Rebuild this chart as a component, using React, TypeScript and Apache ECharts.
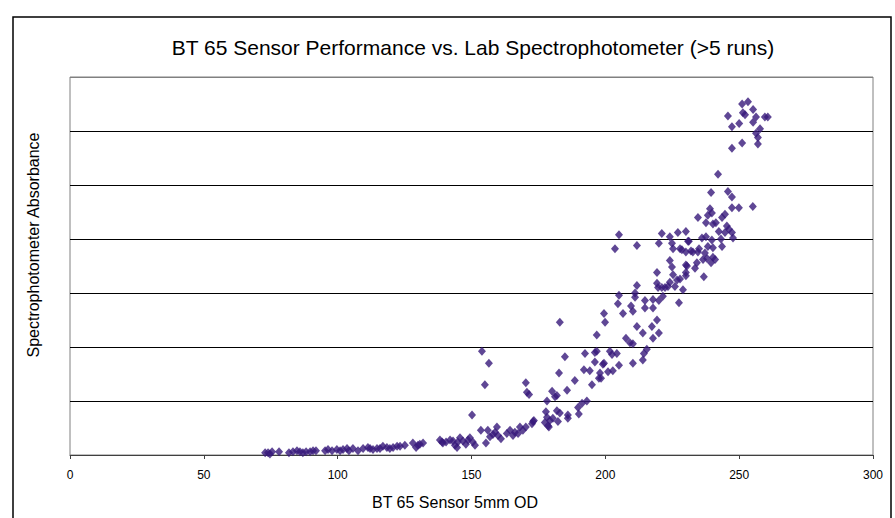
import React, { useEffect, useRef } from "react";
import * as echarts from "echarts";

const chartTitle = "BT 65 Sensor Performance vs. Lab Spectrophotometer (>5 runs)";
const xAxisTitle = "BT 65 Sensor 5mm OD";
const yAxisTitle = "Spectrophotometer Absorbance";
const xTicks = [0, 50, 100, 150, 200, 250, 300];

// [sensor OD, absorbance]
const pointsLow: number[][] = [
  [72.9, 0.02], [74.0, 0.02], [74.7, 0.01], [75.5, 0.03], [78.1, 0.03], [81.8, 0.02], [83.3, 0.03],
  [84.8, 0.04], [85.9, 0.03], [87.0, 0.02], [88.2, 0.03], [89.7, 0.03], [90.8, 0.04], [91.9, 0.04],
  [95.3, 0.04], [96.4, 0.05], [97.9, 0.04], [99.7, 0.05], [100.9, 0.04], [102.0, 0.05], [103.5, 0.06],
  [104.2, 0.04], [105.7, 0.06], [107.6, 0.04], [109.5, 0.06], [111.3, 0.07], [112.1, 0.06], [113.2, 0.05],
  [114.7, 0.06], [115.8, 0.06], [116.9, 0.08], [118.4, 0.07], [119.5, 0.06], [120.7, 0.07], [122.2, 0.08],
  [123.3, 0.08], [125.1, 0.09], [128.1, 0.11], [129.3, 0.07], [130.0, 0.09], [130.7, 0.10], [131.9, 0.11],
  [138.2, 0.14], [139.3, 0.11],
];

const pointsRise: number[][] = [
  [139.0, 0.12], [140.5, 0.12], [142.0, 0.14], [143.1, 0.13], [143.8, 0.09], [144.6, 0.07], [144.9, 0.12],
  [145.7, 0.16], [146.8, 0.13], [147.9, 0.10], [148.7, 0.14], [149.4, 0.16], [150.5, 0.12], [151.3, 0.09],
  [150.2, 0.37], [153.5, 0.23], [153.9, 0.96], [155.0, 0.65], [156.5, 0.85], [155.4, 0.11], [156.1, 0.23],
  [156.9, 0.17], [158.0, 0.19], [158.8, 0.21], [159.5, 0.26], [159.9, 0.18], [161.0, 0.15], [163.2, 0.20],
  [164.4, 0.23], [165.5, 0.18], [166.2, 0.21], [167.4, 0.20], [168.1, 0.26], [169.2, 0.23], [170.3, 0.26],
  [170.3, 0.67], [170.7, 0.58], [171.5, 0.56], [172.6, 0.29], [173.0, 0.31], [173.3, 0.32],
];

const pointsMid: number[][] = [
  [177.4, 0.30], [177.8, 0.40], [178.2, 0.35], [178.2, 0.50], [178.6, 0.27], [178.9, 0.26], [179.3, 0.32],
  [180.1, 0.59], [180.4, 0.34], [181.2, 0.54], [181.9, 0.55], [181.9, 0.41], [182.3, 0.31], [182.7, 0.76],
  [183.0, 0.39], [183.0, 1.23], [184.9, 0.91], [185.7, 0.60], [186.0, 0.37], [186.0, 0.34], [188.6, 0.69],
  [189.8, 0.44], [190.1, 0.38], [191.3, 0.48], [192.0, 0.79], [192.4, 0.94], [193.1, 0.50], [194.2, 0.78],
  [195.0, 0.65], [196.1, 0.86], [196.1, 0.95], [196.8, 1.11], [196.8, 0.96], [197.6, 0.71], [198.0, 0.76],
  [198.4, 0.71], [199.1, 0.84], [199.5, 0.85], [199.5, 1.31], [199.9, 1.23], [201.0, 0.77], [201.7, 0.96],
  [202.5, 0.93], [202.8, 0.78], [204.3, 0.94], [205.1, 0.83],
];

const pointsHigh: number[][] = [
  [203.6, 1.91], [205.1, 2.04], [211.8, 1.94], [221.1, 2.05], [220.0, 1.96], [224.1, 2.02], [227.1, 2.06],
  [230.1, 2.07], [224.9, 1.96], [225.3, 1.91], [227.9, 1.91], [230.1, 1.88], [231.2, 1.98], [232.7, 1.88],
  [234.6, 1.88], [236.1, 2.01], [237.2, 1.87], [236.5, 1.81], [234.2, 1.78], [233.5, 1.73], [230.1, 1.76],
  [230.1, 1.69], [224.1, 1.80], [224.9, 1.74], [225.3, 1.67], [219.3, 1.69], [226.8, 1.62], [227.9, 1.63],
  [230.1, 1.66], [224.1, 1.60], [219.3, 1.59], [219.7, 1.55], [221.1, 1.55], [222.3, 1.55], [223.4, 1.56],
  [226.0, 1.56], [229.0, 1.53], [221.5, 1.47], [211.8, 1.57], [211.1, 1.50], [205.1, 1.48], [204.7, 1.40],
  [211.1, 1.46], [214.8, 1.43], [217.8, 1.44], [220.0, 1.43], [227.5, 1.41], [209.6, 1.38], [206.6, 1.31],
  [210.3, 1.33], [214.8, 1.36], [217.8, 1.36], [219.3, 1.25], [211.8, 1.19], [217.4, 1.19], [214.0, 1.13],
  [220.0, 1.13], [207.7, 1.08], [209.2, 1.04], [210.3, 1.03], [217.8, 1.08], [215.5, 0.98], [214.4, 0.94],
  [214.0, 0.88], [210.3, 0.85],
];

const pointsUpper: number[][] = [
  [239.1, 2.28], [239.8, 2.24], [238.3, 2.22], [244.7, 2.23], [243.6, 2.20], [234.6, 2.20], [237.6, 2.15],
  [240.2, 2.14], [241.3, 2.15], [245.4, 2.12], [246.2, 2.09], [242.4, 2.07], [244.7, 2.06], [247.3, 2.06],
  [230.9, 1.98], [237.6, 2.02], [239.8, 1.99], [243.2, 2.00], [247.7, 2.01], [228.6, 1.90], [232.0, 1.89],
  [235.0, 1.91], [238.3, 1.93], [240.2, 1.92], [243.6, 1.93], [240.2, 1.83], [238.0, 1.82], [239.5, 1.78],
  [241.0, 1.81], [230.5, 1.75], [236.8, 1.65], [242.1, 2.60], [239.5, 2.43], [245.8, 2.44], [247.3, 2.39],
  [247.3, 2.29], [249.9, 2.29], [255.1, 2.30],
];

const pointsTop: number[][] = [
  [253.3, 3.27], [251.1, 3.25], [255.2, 3.20], [251.4, 3.17], [252.2, 3.15], [245.8, 3.14], [256.3, 3.13],
  [260.7, 3.13], [259.6, 3.13], [255.2, 3.08], [250.0, 3.07], [247.3, 3.04], [257.8, 3.02], [256.3, 2.98],
  [257.0, 2.94], [251.1, 2.89], [257.0, 2.88], [247.3, 2.84],
];

const allPoints = [...pointsLow, ...pointsRise, ...pointsMid, ...pointsHigh, ...pointsUpper, ...pointsTop];

const FONT = "'Liberation Sans', Arial, sans-serif";

export default function App() {
  const ref = useRef<HTMLDivElement>(null);
  useEffect(() => {
    document.body.style.margin = "0";
    if (!ref.current) return;
    const chart = echarts.init(ref.current, null, { renderer: "svg" });
    chart.setOption({
      animation: false,
      backgroundColor: "#fff",
      textStyle: { fontFamily: FONT },
      title: {
        text: chartTitle,
        left: 468,
        top: 32,
        textAlign: "center",
        textStyle: { fontFamily: FONT, fontSize: 21, fontWeight: "normal", color: "#000" },
      },
      graphic: [
        {
          type: "rect",
          shape: { x: 13, y: 17, width: 878, height: 530 },
          style: { fill: "none", stroke: "#000", lineWidth: 1.5 },
          z: 100,
        },
        {
          type: "text",
          x: 33,
          y: 245,
          rotation: Math.PI / 2,
          style: {
            text: yAxisTitle,
            fontFamily: FONT,
            fontSize: 16,
            fill: "#000",
            align: "center",
            verticalAlign: "middle",
          },
        },
        {
          type: "text",
          x: 455,
          y: 502,
          style: {
            text: xAxisTitle,
            fontFamily: FONT,
            fontSize: 16,
            fill: "#000",
            align: "center",
            verticalAlign: "middle",
          },
        },
      ],
      grid: {
        left: 70,
        right: 22,
        top: 77,
        bottom: 63,
        show: true,
        borderColor: "#808080",
        borderWidth: 1,
        containLabel: false,
      },
      xAxis: {
        type: "value",
        min: xTicks[0],
        max: xTicks[xTicks.length - 1],
        interval: 50,
        axisLine: { show: true, lineStyle: { color: "#404040", width: 1 } },
        axisTick: { show: true, inside: false, length: 4, lineStyle: { color: "#404040" } },
        axisLabel: { fontFamily: FONT, fontSize: 12, color: "#000", margin: 14 },
        splitLine: { show: false },
      },
      yAxis: {
        type: "value",
        min: 0,
        max: 3.5,
        interval: 0.5,
        axisLine: { show: false },
        axisTick: { show: false },
        axisLabel: { show: false },
        splitLine: {
          show: true,
          lineStyle: {
            color: ["#404040", "#000", "#000", "#000", "#000", "#000", "#000", "#808080"],
            width: 1,
          },
        },
      },
      series: [
        {
          type: "scatter",
          data: allPoints,
          symbol: "diamond",
          symbolSize: [8, 9],
          itemStyle: { color: "#37197A" },
        },
      ],
    });
    return () => chart.dispose();
  }, []);
  return <div ref={ref} style={{ width: 895, height: 518 }} />;
}
